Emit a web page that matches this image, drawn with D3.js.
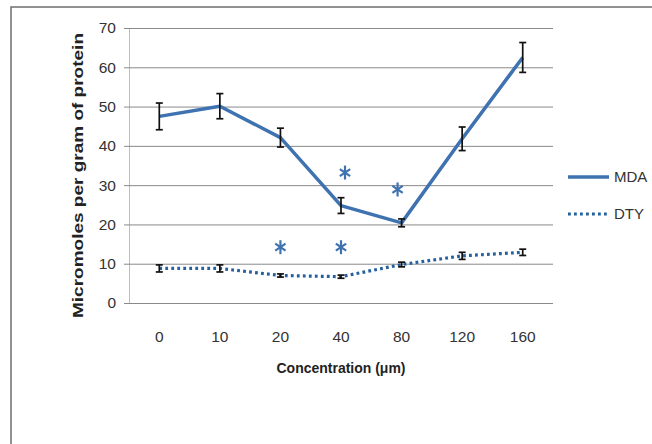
<!DOCTYPE html>
<html>
<head>
<meta charset="utf-8">
<script src="https://cdn.jsdelivr.net/npm/d3@7"></script>
<style>
  body { margin: 0; background: #fff; }
  svg { display: block; font-family: "Liberation Sans", Arial, sans-serif; }
</style>
</head>
<body>
<div id="chart"></div>
<script>
// concentrations (µm) shown as evenly spaced categories
const categories = ['0', '10', '20', '40', '80', '120', '160'];
const mdaValues = [47.5, 50.1, 42.1, 24.8, 20.4, 41.8, 62.5];
const mdaErrors = [3.4, 3.2, 2.4, 2.0, 1.0, 3.0, 3.8];
const dtyValues = [8.8, 8.8, 7.0, 6.7, 9.8, 12.0, 12.9];
const dtyErrors = [0.9, 0.9, 0.4, 0.4, 0.6, 0.9, 0.8];
const yTicks = [0, 10, 20, 30, 40, 50, 60, 70];
// significance markers (category, height)
const starCats = ['20', '40', '40', '80'];
const starValues = [14.2, 14.2, 33.2, 28.9];

const width = 652, height = 444;
const blue = '#3f72b0';

const svg = d3.select('#chart').append('svg')
    .attr('width', width)
    .attr('height', height);

svg.append('rect').attr('width', width).attr('height', height).attr('fill', '#fff');

// outer frame (only the top and left edges fall inside the picture)
svg.append('rect')
    .attr('x', 11).attr('y', 7)
    .attr('width', 800).attr('height', 600)
    .attr('fill', 'none')
    .attr('stroke', '#6e6e6e')
    .attr('stroke-width', 1.5);

const x = d3.scaleBand().domain(categories).range([129, 553]);
const y = d3.scaleLinear().domain([0, 70]).range([303, 28]);
const cx = d => x(d) + x.bandwidth() / 2;

// gridlines + y axis
const yAxis = d3.axisLeft(y)
    .tickValues(yTicks)
    .tickSize(-(553 - 129))
    .tickPadding(13);

const gy = svg.append('g')
    .attr('transform', 'translate(129,0)')
    .call(yAxis);
gy.select('.domain').attr('stroke', '#bdbdbd');
gy.selectAll('.tick line').attr('stroke', '#8a8a8a').attr('x1', -5);
gy.selectAll('.tick text')
    .attr('fill', '#333')
    .style('font-size', '15.5px');

// x axis labels, no ticks
const gx = svg.append('g')
    .attr('transform', 'translate(0,303)')
    .call(d3.axisBottom(x).tickSize(0).tickPadding(28));
gx.select('.domain').remove();
gx.selectAll('.tick text')
    .attr('fill', '#333')
    .style('font-size', '15.5px');

// axis titles
svg.append('text')
    .attr('x', 341).attr('y', 373)
    .attr('text-anchor', 'middle')
    .attr('textLength', 129)
    .attr('lengthAdjust', 'spacingAndGlyphs')
    .style('font-size', '15px')
    .style('font-weight', 'bold')
    .attr('fill', '#222')
    .text('Concentration (μm)');

svg.append('text')
    .attr('transform', 'translate(83,175.5) rotate(-90)')
    .attr('text-anchor', 'middle')
    .attr('textLength', 285)
    .attr('lengthAdjust', 'spacingAndGlyphs')
    .style('font-size', '15px')
    .style('font-weight', 'bold')
    .attr('fill', '#222')
    .text('Micromoles per gram of protein');

const line = d3.line()
    .x((d, i) => cx(categories[i]))
    .y(d => y(d));

// DTY dotted
svg.append('path')
    .datum(dtyValues)
    .attr('d', line)
    .attr('fill', 'none')
    .attr('stroke', '#24609f')
    .attr('stroke-width', 3.2)
    .attr('stroke-dasharray', '2.8,3.2');

// MDA solid
svg.append('path')
    .datum(mdaValues)
    .attr('d', line)
    .attr('fill', 'none')
    .attr('stroke', blue)
    .attr('stroke-width', 3.5)
    .attr('stroke-linejoin', 'round');

// error bars
function errorBars(vals, errs) {
    const g = svg.append('g')
        .attr('stroke', '#111')
        .attr('stroke-width', 1.7)
        .attr('fill', 'none');
    vals.forEach((v, i) => {
        const px = cx(categories[i]);
        const lo = y(v - errs[i]), hi = y(v + errs[i]);
        g.append('line').attr('x1', px).attr('x2', px).attr('y1', lo).attr('y2', hi);
        g.append('line').attr('x1', px - 3.5).attr('x2', px + 3.5).attr('y1', lo).attr('y2', lo);
        g.append('line').attr('x1', px - 3.5).attr('x2', px + 3.5).attr('y1', hi).attr('y2', hi);
    });
}
errorBars(mdaValues, mdaErrors);
errorBars(dtyValues, dtyErrors);

// asterisks
const star = svg.append('g')
    .attr('stroke', blue)
    .attr('stroke-width', 2.2)
    .attr('stroke-linecap', 'butt');
starCats.forEach((c, i) => {
    const sx = cx(c) + (starValues[i] > 30 ? 4 : 0) - (c === '80' ? 4 : 0);
    const sy = y(starValues[i]);
    const r = 7;
    [90, 30, -30].forEach(a => {
        const rad = a * Math.PI / 180;
        const dx = Math.cos(rad) * r * 0.85;
        const dy = Math.sin(rad) * r;
        star.append('line')
            .attr('x1', sx - dx).attr('y1', sy - dy)
            .attr('x2', sx + dx).attr('y2', sy + dy);
    });
});

// legend
const legend = svg.append('g');
const legendItems = [
    { name: 'MDA', y: 177, dash: null, color: blue },
    { name: 'DTY', y: 214, dash: '2.8,3.2', color: '#24609f' }
];
legendItems.forEach(d => {
    legend.append('line')
        .attr('x1', 568).attr('x2', 609)
        .attr('y1', d.y).attr('y2', d.y)
        .attr('stroke', d.color)
        .attr('stroke-width', d.dash ? 3.2 : 3.5)
        .attr('stroke-dasharray', d.dash);
    legend.append('text')
        .attr('x', 614).attr('y', d.y)
        .attr('dy', '0.36em')
        .style('font-size', '15px')
        .attr('fill', '#333')
        .text(d.name);
});
</script>
</body>
</html>
